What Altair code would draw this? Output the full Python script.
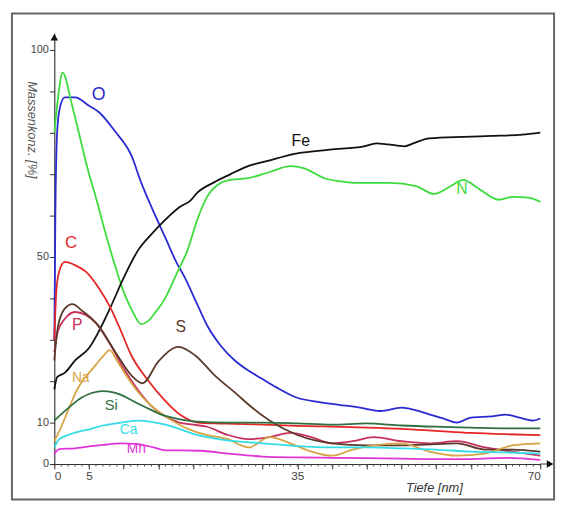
import altair as alt
import pandas as pd

# ---------------- data ----------------
elements = ["O", "N", "Fe", "C", "P", "S", "Na", "Si", "Ca", "Mn"]
colors = ["#2a2ad2", "#3ddc3d", "#111111", "#e52626", "#c8305c", "#5b3a2b",
          "#d6a444", "#2f6f42", "#33dde6", "#e034d6"]

O_x = [0, 0.15, 0.4, 0.8, 1.5, 3, 5, 6.4, 8.8, 11.1, 12.5, 14, 15.9, 17.5, 18.8, 20.6, 22, 24, 26, 28, 30, 32, 35, 38, 41, 44, 47, 50, 52, 54, 56, 58, 60, 63, 65, 67, 69, 70]
O_y = [30, 60, 80, 86, 88.5, 88.5, 86.5, 85, 80.2, 74.5, 68, 62, 55, 49, 45, 38.5, 33.5, 28.5, 25, 22.5, 20.5, 18.5, 16, 15, 14.3, 13.6, 12.8, 13.6, 13, 12, 11, 10, 11.2, 11.5, 11.9, 11.2, 10.5, 11]

N_x = [0, 0.5, 1.2, 2.5, 3.6, 5, 6, 7, 8.8, 10, 11.1, 12.5, 13.5, 14.5, 15.9, 17.5, 19.2, 20.6, 22, 23.6, 25, 27.9, 31, 34, 36, 38.9, 41, 43.1, 48.3, 52.1, 54.7, 57, 58.9, 61.2, 64, 66, 68.3, 70]
N_y = [80, 88, 94.5, 87, 79.5, 70, 64.3, 58, 47.6, 41.5, 37.4, 33.8, 34.5, 36.5, 39.8, 45.5, 51.7, 59, 64.5, 67.5, 68.5, 69, 70.5, 71.9, 71.4, 69, 68.3, 67.9, 67.9, 67.1, 65.2, 67, 68.6, 66.4, 63.8, 64.5, 64.3, 63.3]

Fe_x = [0, 0.4, 1.5, 3, 5, 6.4, 8, 10, 12.1, 14, 16, 18, 19.6, 20.6, 23, 25.4, 28, 30.3, 35, 39.7, 44.6, 46.4, 48, 50.4, 52, 54, 58.9, 63, 67.4, 70]
Fe_y = [18, 21, 22, 25, 28, 32, 37.5, 45, 51.7, 55.5, 59, 62, 63.6, 65.5, 68, 70, 72, 73, 75, 75.9, 76.7, 77.4, 77.2, 76.7, 77.6, 78.6, 79, 79.2, 79.5, 80]

C_x = [0, 0.3, 0.7, 1.5, 3, 4.5, 6.4, 8, 9.3, 11.1, 13.6, 16, 18.3, 20.7, 23, 26, 30, 35, 40, 45, 50, 55, 60, 65, 70]
C_y = [30, 42, 46.5, 48.8, 48, 46.5, 42.5, 38, 33.3, 26.2, 20, 15.2, 11.7, 10, 9.8, 9.7, 9.5, 9.2, 9, 8.8, 8.5, 8, 7.5, 7.2, 7]

P_x = [0, 0.5, 1.5, 3, 4.5, 6, 8, 10, 12, 14, 16, 18, 20, 22, 25, 28, 31, 34, 37, 40, 43, 46, 50, 54, 58, 62, 66, 70]
P_y = [27, 32, 35, 36.7, 36, 34, 29, 23, 18, 14, 11.5, 10, 9.5, 9, 7, 6, 6.5, 7.5, 6.5, 5, 5.5, 6.5, 5.5, 5, 5.5, 4, 3, 2]

S_x = [0, 0.5, 1.5, 2.6, 4, 6.4, 8.8, 11.1, 12.7, 15, 17.9, 20.3, 23.1, 26.4, 28, 31, 35, 40, 45, 50, 55, 58, 62, 66, 70]
S_y = [25, 33, 37.5, 38.6, 37, 33.3, 27, 21.4, 19.5, 24.8, 28.3, 26.2, 21.4, 16.7, 14.3, 10.5, 7, 5, 4.5, 4.5, 4.8, 5, 3.5, 3.5, 3]

Na_x = [0, 1, 2, 3, 4, 5, 6, 7, 8, 9, 10.5, 12, 14, 16, 18, 20, 22, 25, 28, 31, 34, 37, 40, 43, 46, 50, 54, 58, 62, 66, 70]
Na_y = [5.5, 9, 13, 17, 20, 22, 24, 26, 27.5, 25, 21, 17.5, 14, 11.5, 9.5, 8, 7, 6, 4, 6.5, 5, 3, 2, 3.5, 4.5, 5, 3, 2, 2.5, 4.5, 5]

Si_x = [0, 2, 3.9, 5.5, 6.9, 8.5, 9.6, 11, 12.4, 14, 15.3, 17, 18.3, 20, 25, 30, 35, 40, 45, 50, 55, 60, 65, 70]
Si_y = [10.5, 13.5, 16, 17.2, 17.6, 17.3, 16.7, 15.5, 14.3, 13, 12, 11.2, 10.7, 10.3, 10, 10, 9.8, 9.5, 9.8, 9.3, 9, 8.8, 8.6, 8.6]

Ca_x = [0, 0.7, 2.5, 4.8, 7, 9.6, 12, 14, 16, 18.3, 20, 23, 26, 30, 35, 40, 45, 50, 55, 60, 65, 70]
Ca_y = [4, 6, 7.3, 8.3, 9.3, 10, 10.5, 10.2, 9.5, 8.3, 7.3, 6.2, 5.5, 5, 4.3, 4, 4, 3.8, 3.5, 3, 2.8, 2.5]

Mn_x = [0, 0.7, 3, 4.8, 7, 9.6, 12, 14.3, 16, 18.3, 21, 25, 30, 35, 40, 45, 50, 55, 60, 65, 70]
Mn_y = [2.4, 3.6, 3.8, 4.2, 4.6, 5, 4.8, 4, 3.3, 3.3, 3.2, 2.5, 1.8, 1.6, 1.5, 1.4, 1.3, 1.2, 1.2, 1.5, 1]

series = {
    "O": (O_x, O_y), "N": (N_x, N_y), "Fe": (Fe_x, Fe_y), "C": (C_x, C_y),
    "P": (P_x, P_y), "S": (S_x, S_y), "Na": (Na_x, Na_y), "Si": (Si_x, Si_y),
    "Ca": (Ca_x, Ca_y), "Mn": (Mn_x, Mn_y),
}

# series labels (data coordinates)
label_text = ["O", "Fe", "N", "C", "P", "S", "Na", "Si", "Ca", "Mn"]
label_x = [6.4, 35.5, 58.7, 2.4, 3.3, 18.2, 3.8, 8.2, 10.7, 11.8]
label_y = [89, 77.9, 66.4, 53.3, 33.6, 33.1, 20.7, 14.3, 8.1, 3.6]
label_size = [18, 16, 16, 17, 16, 16, 14, 15, 14, 14]

x_ticks = list(range(0, 71, 5))
x_minor = list(range(0, 71))
x_shown = [0, 5, 35, 70]
y_ticks = list(range(0, 101, 10))
y_shown = [0, 10, 50, 100]

# ---------------- build ----------------
rows = []
for el in elements:
    xs, ys = series[el]
    for i, (a, b) in enumerate(zip(xs, ys)):
        rows.append({"el": el, "x": a, "y": b, "i": i})
df = pd.DataFrame(rows)

lab = pd.DataFrame({"el": label_text, "lx": label_x, "ly": label_y, "fs": label_size})
minor = pd.DataFrame({"t": x_minor})
one = pd.DataFrame({"a": [0]})

W, H = 493, 437
xscale = alt.Scale(domain=[0, 70], nice=False, zero=False)
yscale = alt.Scale(domain=[0, 104], nice=False)
cscale = alt.Scale(domain=elements, range=colors)

xaxis = alt.Axis(
    values=x_ticks,
    labelExpr="indexof([" + ",".join(str(v) for v in x_shown) + "], datum.value) >= 0 ? datum.label : ''",
    grid=False, domainColor="#333333", tickColor="#333333", tickSize=5,
    labelFontSize=12, labelColor="#444444", labelPadding=2, labelFont="Liberation Sans",
    title="Tiefe [nm]", titleX=385, titleY=24, titleAlign="center", titleBaseline="middle",
    titleFontStyle="italic", titleFontWeight="normal", titleFontSize=13,
    titleColor="#333333", titleFont="Liberation Sans",
)
yaxis = alt.Axis(
    values=y_ticks,
    labelExpr="indexof([" + ",".join(str(v) for v in y_shown) + "], datum.value) >= 0 ? datum.label : ''",
    grid=False, domainColor="#111111", tickColor="#333333", tickSize=5,
    labelFontSize=11, labelColor="#444444", labelPadding=1, labelFont="Liberation Sans",
    title=None,
)

lines = alt.Chart(df).mark_line(strokeWidth=1.8, interpolate="monotone").encode(
    x=alt.X("x:Q", scale=xscale, axis=xaxis),
    y=alt.Y("y:Q", scale=yscale, axis=yaxis),
    color=alt.Color("el:N", scale=cscale, legend=None),
    detail="el:N",
    order="i:Q",
)

labels = alt.Chart(lab).mark_text(font="Liberation Sans", align="center", baseline="middle").encode(
    x=alt.X("lx:Q", scale=xscale, axis=xaxis),
    y=alt.Y("ly:Q", scale=yscale, axis=yaxis),
    text="el:N",
    size=alt.Size("fs:Q", scale=None, legend=None),
    color=alt.Color("el:N", scale=cscale, legend=None),
)

minor_ticks = alt.Chart(minor).mark_rule(color="#444444", strokeWidth=1).encode(
    x=alt.X("t:Q", scale=xscale, axis=xaxis),
    y=alt.value(H),
    y2=alt.value(H + 2.5),
)

frame = alt.Chart(one).mark_rect(fill="transparent", stroke="#666666", strokeWidth=2).encode(
    x=alt.value(-43), x2=alt.value(507), y=alt.value(-20), y2=alt.value(473)
)

x_ext = alt.Chart(one).mark_rule(color="#333333", strokeWidth=1).encode(
    x=alt.value(W), x2=alt.value(W + 8), y=alt.value(H)
)
x_arrow = alt.Chart(one).mark_point(shape="triangle-right", filled=True, color="#111111", size=60, opacity=1).encode(
    x=alt.value(W + 10), y=alt.value(H)
)
y_arrow = alt.Chart(one).mark_point(shape="triangle-up", filled=True, color="#111111", size=60, opacity=1).encode(
    x=alt.value(0), y=alt.value(4)
)

ytitle = alt.Chart(one).mark_text(
    text="Massenkonz. [%]", angle=90, font="Liberation Sans", fontSize=13,
    fontStyle="italic", color="#555555", align="center", baseline="middle"
).encode(x=alt.value(-23), y=alt.value(98))

chart = alt.layer(
    frame, minor_ticks, lines, labels, x_ext, x_arrow, y_arrow, ytitle
).properties(
    width=W, height=H,
    padding={"left": 47, "top": 22, "right": 20, "bottom": 41},
    autosize=alt.AutoSizeParams(type="none"),
    background="white",
).configure_view(strokeWidth=0)

chart.save("out.html", embed_options={"renderer": "svg", "actions": False})
